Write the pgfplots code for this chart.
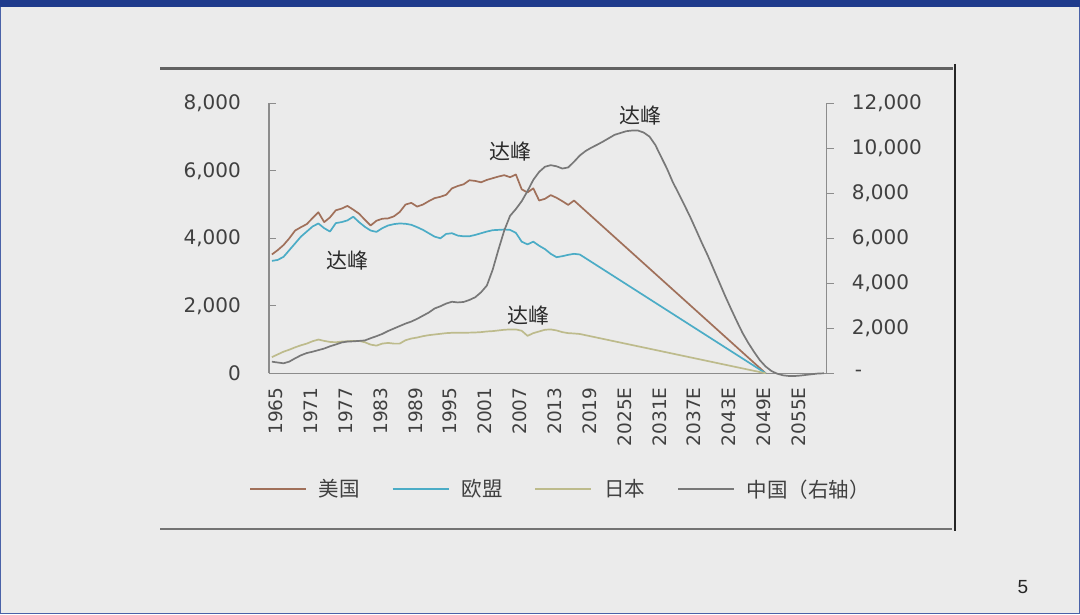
\documentclass[border=0pt]{standalone}
\usepackage{pgfplots}
\pgfplotsset{compat=1.18}
\usepackage{fontspec}
\setmainfont{DejaVu Sans}
\newfontfamily\cjk{Noto Sans CJK SC}
\newfontfamily\pnum{Liberation Sans}
\definecolor{bg}{HTML}{EBEBEB}
\definecolor{band}{HTML}{1F3B8C}
\definecolor{edge}{HTML}{4A62A8}
\definecolor{usc}{HTML}{A0705A}
\definecolor{euc}{HTML}{4BACC6}
\definecolor{jpc}{HTML}{BDBB8C}
\definecolor{cnc}{HTML}{787878}
\definecolor{axisgray}{HTML}{8C8C8C}
\definecolor{labelgray}{HTML}{404040}
\definecolor{annot}{HTML}{2A2A2A}

\pgfplotstableread{
year val
1965 3520
1966 3650
1967 3800
1968 4000
1969 4230
1970 4330
1971 4420
1972 4600
1973 4770
1974 4480
1975 4620
1976 4830
1977 4880
1978 4960
1979 4850
1980 4730
1981 4550
1982 4380
1983 4520
1984 4580
1985 4590
1986 4650
1987 4780
1988 5000
1989 5050
1990 4940
1991 5000
1992 5100
1993 5190
1994 5230
1995 5290
1996 5480
1997 5550
1998 5600
1999 5720
2000 5700
2001 5660
2002 5730
2003 5780
2004 5830
2005 5870
2006 5810
2007 5890
2008 5450
2009 5360
2010 5480
2011 5120
2012 5170
2013 5280
2014 5200
2015 5100
2016 4990
2017 5120
2050 0
}\usdata

\pgfplotstableread{
year val
1965 3330
1966 3360
1967 3450
1968 3650
1969 3850
1970 4050
1971 4200
1972 4350
1973 4440
1974 4300
1975 4200
1976 4450
1977 4480
1978 4530
1979 4640
1980 4480
1981 4340
1982 4230
1983 4190
1984 4300
1985 4380
1986 4420
1987 4440
1988 4430
1989 4400
1990 4330
1991 4250
1992 4150
1993 4050
1994 4000
1995 4130
1996 4150
1997 4080
1998 4060
1999 4060
2000 4100
2001 4150
2002 4200
2003 4240
2004 4250
2005 4260
2006 4250
2007 4160
2008 3900
2009 3820
2010 3900
2011 3780
2012 3680
2013 3540
2014 3440
2015 3470
2016 3510
2017 3540
2018 3520
2050 0
}\eudata

\pgfplotstableread{
year val
1965 480
1966 560
1967 640
1968 700
1969 770
1970 830
1971 880
1972 950
1973 1000
1974 960
1975 930
1976 920
1977 940
1978 950
1979 960
1980 960
1981 920
1982 850
1983 820
1984 880
1985 900
1986 880
1987 880
1988 980
1989 1030
1990 1060
1991 1100
1992 1130
1993 1150
1994 1170
1995 1190
1996 1200
1997 1200
1998 1200
1999 1205
2000 1210
2001 1220
2002 1240
2003 1250
2004 1270
2005 1290
2006 1300
2007 1300
2008 1260
2009 1110
2010 1190
2011 1240
2012 1290
2013 1300
2014 1270
2015 1220
2016 1190
2017 1180
2018 1165
2050 0
}\jpdata

\pgfplotstableread{
year val
1965 516
1966 480
1967 444
1968 520
1969 667
1970 800
1971 900
1972 960
1973 1030
1974 1100
1975 1200
1976 1280
1977 1370
1978 1410
1979 1420
1980 1440
1981 1460
1982 1560
1983 1650
1984 1750
1985 1880
1986 1990
1987 2100
1988 2210
1989 2300
1990 2420
1991 2560
1992 2700
1993 2880
1994 2980
1995 3100
1996 3180
1997 3150
1998 3170
1999 3260
2000 3380
2001 3600
2002 3900
2003 4600
2004 5500
2005 6350
2006 7000
2007 7300
2008 7650
2009 8100
2010 8600
2011 8950
2012 9180
2013 9250
2014 9200
2015 9100
2016 9150
2017 9400
2018 9680
2019 9880
2020 10030
2021 10160
2022 10300
2023 10450
2024 10600
2025 10680
2026 10760
2027 10790
2028 10790
2029 10700
2030 10520
2031 10150
2032 9620
2033 9100
2034 8500
2035 8000
2036 7480
2037 6950
2038 6380
2039 5800
2040 5250
2041 4650
2042 4050
2043 3450
2044 2880
2045 2330
2046 1800
2047 1350
2048 950
2049 580
2050 300
2051 100
2052 -20
2053 -90
2054 -120
2055 -120
2056 -100
2057 -70
2058 -40
2059 -10
2060 0
}\cndata

\begin{document}
\begin{tikzpicture}[x=1pt,y=1pt]
\path[use as bounding box, fill=bg] (0,0) rectangle (1080,614);
\fill[band] (0,607) rectangle (1080,614);
\draw[edge, line width=1.2pt] (0.6,0.6) -- (0.6,607) (1079.4,0.6) -- (1079.4,607) (0,0.6) -- (1080,0.6);
\draw[line width=3pt, color=black!62] (160,545) -- (953,545);
\draw[line width=2pt, color=black!85] (955,550) -- (955,83);
\draw[line width=2pt, color=black!55] (160,85.5) -- (952,85.5);
\node[text=black!85] at (1023,27) {\pnum\fontsize{19}{22}\selectfont 5};

\begin{axis}[
  at={(269pt,240.7pt)}, anchor=south west,
  width=557.7pt, height=270pt, scale only axis,
  xmin=1964.5, xmax=2060.5, ymin=0, ymax=8000,
  axis x line*=bottom, axis y line*=left,
  axis line style={draw=axisgray, line width=1.2pt},
  xtick={1965,1971,...,2055},
  xticklabels={1965,1971,1977,1983,1989,1995,2001,2007,2013,2019,2025E,2031E,2037E,2043E,2049E,2055E},
  x tick label style={xshift=4pt, rotate=90, anchor=east, font=\fontsize{18.5}{20}\selectfont, text=labelgray, inner sep=0pt},
  xticklabel shift=14pt,
  xtick style={draw=none},
  ytick={0,2000,4000,6000,8000},
  yticklabels={0,{2,000},{4,000},{6,000},{8,000}},
  y tick label style={anchor=east, font=\fontsize{20}{24}\selectfont, text=labelgray, inner sep=0pt},
  yticklabel shift=28pt,
  ytick style={draw=axisgray, line width=1.2pt},
  tick align=inside, major tick length=7pt,
  no markers,
]
\addplot[usc, line width=1.7pt, line join=round] table[x=year,y=val] {\usdata};
\addplot[euc, line width=1.7pt, line join=round] table[x=year,y=val] {\eudata};
\addplot[jpc, line width=1.7pt, line join=round] table[x=year,y=val] {\jpdata};
\end{axis}

\begin{axis}[
  at={(269pt,240.7pt)}, anchor=south west,
  width=557.7pt, height=270pt, scale only axis,
  xmin=1964.5, xmax=2060.5, ymin=0, ymax=12000,
  axis x line=none, axis y line*=right,
  scaled y ticks=false,
  axis line style={draw=axisgray, line width=1.2pt},
  ytick={0,2000,4000,6000,8000,10000,12000},
  yticklabels={{\hspace{3pt}-},{2,000},{4,000},{6,000},{8,000},{10,000},{12,000}},
  y tick label style={anchor=west, font=\fontsize{20}{24}\selectfont, text=labelgray, inner sep=0pt},
  yticklabel shift=18pt,
  ytick style={draw=axisgray, line width=1.2pt},
  tick align=outside, major tick length=7pt,
  no markers, clip=false,
  legend columns=4,
  legend style={at={(-0.0359,-0.4285)}, anchor=west, draw=none, fill=none,
    font=\cjk\fontsize{20.5}{24}\selectfont, text=labelgray, inner sep=0pt,
    nodes={inner sep=0pt},
    /tikz/every odd column/.append style={column sep=12pt},
    /tikz/every even column/.append style={column sep=32pt}},
  legend image code/.code={\draw[#1, line width=1.7pt] (0pt,0pt) -- (56pt,0pt);},
]
\addlegendimage{usc}\addlegendentry{美国}
\addlegendimage{euc}\addlegendentry{欧盟}
\addlegendimage{jpc}\addlegendentry{日本}
\addplot[cnc, line width=1.7pt, line join=round] table[x=year,y=val] {\cndata};
\addlegendentry{中国（右轴）}
\end{axis}

\node[font=\cjk\fontsize{21}{24}\selectfont, text=annot] at (510.8,462.3) {达峰};
\node[font=\cjk\fontsize{21}{24}\selectfont, text=annot] at (347.8,353.5) {达峰};
\node[font=\cjk\fontsize{21}{24}\selectfont, text=annot] at (528.7,298.2) {达峰};
\node[font=\cjk\fontsize{21}{24}\selectfont, text=annot] at (640,498.2) {达峰};
\end{tikzpicture}
\end{document}
